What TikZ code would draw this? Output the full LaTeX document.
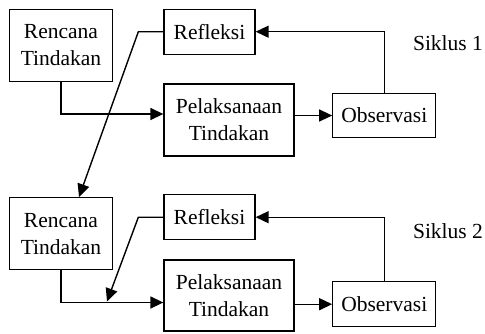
\documentclass[tikz,border=0pt]{standalone}
\usepackage{fontspec}
\setmainfont{Liberation Serif}
\usepackage{tikz}
\usetikzlibrary{arrows.meta}
\usetikzlibrary{calc,backgrounds}
\pgfdeclarelayer{edgelayer}
\pgfdeclarelayer{nodelayer}
\pgfsetlayers{background,edgelayer,nodelayer,main}
\tikzstyle{every picture}=[x=1pt,y=-1pt]
\tikzstyle{box}=[draw=black,fill=white,line width=1.3pt,inner sep=0pt,align=center,font=\fontsize{21.5}{27}\selectfont]
\tikzstyle{wide}=[box,minimum width=103pt,minimum height=72pt]
\tikzstyle{slim}=[box,minimum width=91pt,minimum height=45pt]
\tikzstyle{obs}=[box,minimum width=103pt,minimum height=44pt]
\tikzstyle{lbl}=[font=\fontsize{21.5}{27}\selectfont]
\tikzstyle{diredge}=[line width=1.4pt,-{Triangle[length=13pt,width=12pt]}]

\begin{document}
\begin{tikzpicture}
	\useasboundingbox (0,0) rectangle (485,333);
	\begin{pgfonlayer}{nodelayer}
		\node [style=wide] (ren1) at (61, 45.5) {Rencana\\Tindakan};
		\node [style=slim] (ref1) at (209.5, 31.7) {Refleksi};
		\node [style=wide,minimum width=130pt] (pel1) at (229, 120) {Pelaksanaan\\Tindakan};
		\node [style=obs] (obs1) at (384.3, 115.5) {Observasi};
		\node [style=lbl] (sik1) at (448, 43) {Siklus 1};
		\node [style=wide] (ren2) at (61, 233.7) {Rencana\\Tindakan};
		\node [style=slim] (ref2) at (209.5, 217.2) {Refleksi};
		\node [style=wide,minimum width=130pt,minimum height=71pt] (pel2) at (229, 295.5) {Pelaksanaan\\Tindakan};
		\node [style=obs,minimum height=45pt] (obs2) at (384.3, 304.2) {Observasi};
		\node [style=lbl] (sik2) at (448, 231) {Siklus 2};
	\end{pgfonlayer}
	\coordinate (k2) at (107, 301.5);
	\begin{pgfonlayer}{edgelayer}
		% siklus 1
		\draw [style=diredge] (ren1.south) |- ([yshift=6pt]pel1.west);
		\draw [style=diredge] (pel1.east |- obs1.west) -- (obs1.west);
		\draw [style=diredge] (obs1.north) |- (ref1.east);
		\draw [style=diredge] (ref1.west) -- ++(-25,0) -- ([xshift=18pt]ren2.north);
		% siklus 2
		\draw [style=diredge] (ren2.south) |- ([yshift=-7pt]pel2.west);
		\draw [style=diredge] (pel2.east |- obs2.west) -- (obs2.west);
		\draw [style=diredge] (obs2.north) |- (ref2.east);
		\draw [style=diredge] (ref2.west) -- ++(-25,0) -- (k2);
	\end{pgfonlayer}
\end{tikzpicture}
\end{document}
